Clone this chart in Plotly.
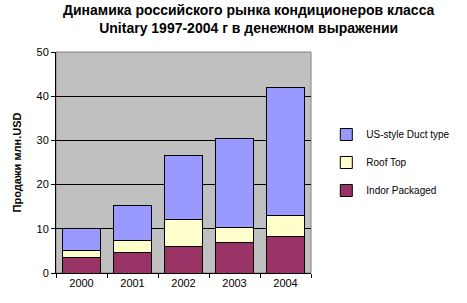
import plotly.graph_objects as go

years = ["2000", "2001", "2002", "2003", "2004"]
indor = [3.6, 4.7, 6.1, 7.0, 8.35]
roof = [1.6, 2.75, 6.1, 3.4, 4.55]
us_style = [4.9, 7.85, 14.4, 20.1, 29.1]
names = ["Indor Packaged", "Roof Top", "US-style Duct type"]
colors = ["#993366", "#FFFFCC", "#9999FF"]
ranks = [3, 2, 1]

fig = go.Figure()
for vals, nm, c, rk in zip([indor, roof, us_style], names, colors, ranks):
    fig.add_trace(go.Bar(x=years, y=vals, name=nm, legendgroup=nm, legendrank=rk,
                         marker=dict(color=c, line=dict(color="black", width=1))))

font = "Liberation Sans, Arial, sans-serif"
fig.update_layout(
    barmode="stack",
    bargap=0.27,
    width=467, height=303,
    margin=dict(l=56, r=128, t=52, b=30),
    paper_bgcolor="white",
    plot_bgcolor="#C0C0C0",
    font=dict(family=font, size=11, color="black"),
    legend=dict(x=1.06, xanchor="left", y=0.50, yanchor="middle",
                tracegroupgap=9,
                font=dict(family=font, size=10, color="black"),
                bgcolor="rgba(0,0,0,0)"),
    xaxis=dict(showline=True, linecolor="black", linewidth=1, ticks="outside",
               tickson="boundaries", ticklen=4, tickcolor="black",
               tickfont=dict(size=11)),
    yaxis=dict(range=[0, 50], dtick=10, showgrid=True, gridcolor="black", gridwidth=1,
               showline=True, linecolor="black", linewidth=1, ticks="outside",
               ticklen=4, tickcolor="black", zeroline=False,
               title=dict(text="<b>Продажи млн.USD</b>", font=dict(size=11), standoff=12),
               tickfont=dict(size=11)),
)
fig.add_annotation(text="<b>Динамика российского рынка кондиционеров класса<br>Unitary 1997-2004 г в денежном выражении</b>",
                   xref="paper", yref="paper", x=0.755, y=1.235, xanchor="center", yanchor="top",
                   showarrow=False, align="center",
                   font=dict(family=font, size=14, color="black"))
fig.add_shape(type="rect", xref="paper", yref="paper", x0=0, x1=1, y0=0, y1=1,
              line=dict(color="#808080", width=1), layer="below")
fig.write_html("out.html")
